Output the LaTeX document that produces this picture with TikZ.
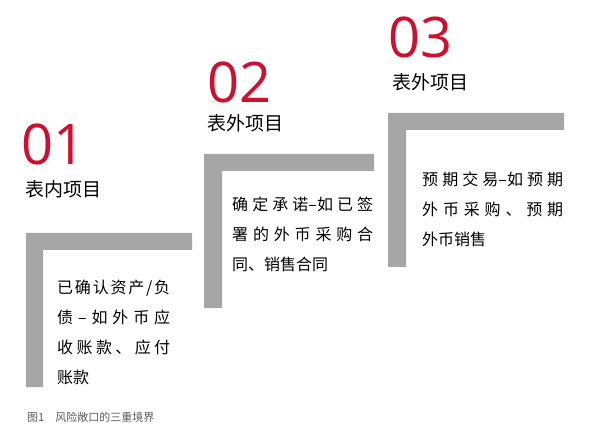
\documentclass[tikz,border=0pt]{standalone}
\usepackage{fontspec}
\setmainfont{Open Sans}
\newfontfamily\cjk{Noto Sans CJK SC}
\usetikzlibrary{positioning}
\definecolor{barGray}{RGB}{166,166,166}
\definecolor{numRed}{RGB}{204,16,48}
\definecolor{capGray}{RGB}{90,90,90}
% spread the characters of one line over a given width
\ExplSyntaxOn
\NewDocumentCommand\jline{mm}{\makebox[#1][s]{\tl_map_inline:nn {#2} {##1\hfil}\unskip}}
\ExplSyntaxOff

\begin{document}
\begin{tikzpicture}[
    x=1pt, y=-1pt,
    bar/.style={fill=barGray},
    numlabel/.style={anchor=base west, inner sep=0pt, text=numRed, font=\fontsize{56}{56}\selectfont},
    titlelabel/.style={anchor=base west, inner sep=0pt, font=\cjk\fontsize{19}{19}\selectfont},
    desctext/.style={anchor=north west, inner sep=0pt, align=left, font=\cjk\fontsize{16}{30}\selectfont},
    caption/.style={anchor=base west, inner sep=0pt, text=capGray, font=\cjk\fontsize{11}{11}\selectfont}
]
\useasboundingbox (0,0) rectangle (594,446);

% Step 1
\fill[bar] (26,233) -- (192,233) -- (192,250) -- (43,250) -- (43,387) -- (26,387) -- cycle;
\node[numlabel] (num1) at (21.5,165) {01};
\node[titlelabel] (title1) at (25,197) {表内项目};
\node[desctext] (desc1) at (57,280) {\jline{113pt}{已确认资产/负}\\\jline{113pt}{债–如外币应}\\\jline{113pt}{收账款、应付}\\账款};

% Step 2
\fill[bar] (204,154) -- (374,154) -- (374,171) -- (222,171) -- (222,308) -- (204,308) -- cycle;
\node[numlabel] (num2) at (207.5,103) {02};
\node[titlelabel] (title2) at (207,131) {表外项目};
\node[desctext] (desc2) at (232,197) {\jline{141pt}{确定承{诺–如}已签}\\\jline{141pt}{署的外币采购合}\\同、销售合同};

% Step 3
\fill[bar] (388,113) -- (564,113) -- (564,130) -- (406,130) -- (406,267) -- (388,267) -- cycle;
\node[numlabel] (num3) at (388.5,58) {03};
\node[titlelabel] (title3) at (392,90) {表外项目};
\node[desctext] (desc3) at (422,172) {\jline{141pt}{预期交{易–如}预期}\\\jline{141pt}{外币采购、预期}\\外币销售};

% Caption
\node[caption] (cap) at (27,421) {图1\quad 风险敞口的三重境界};
\end{tikzpicture}
\end{document}
